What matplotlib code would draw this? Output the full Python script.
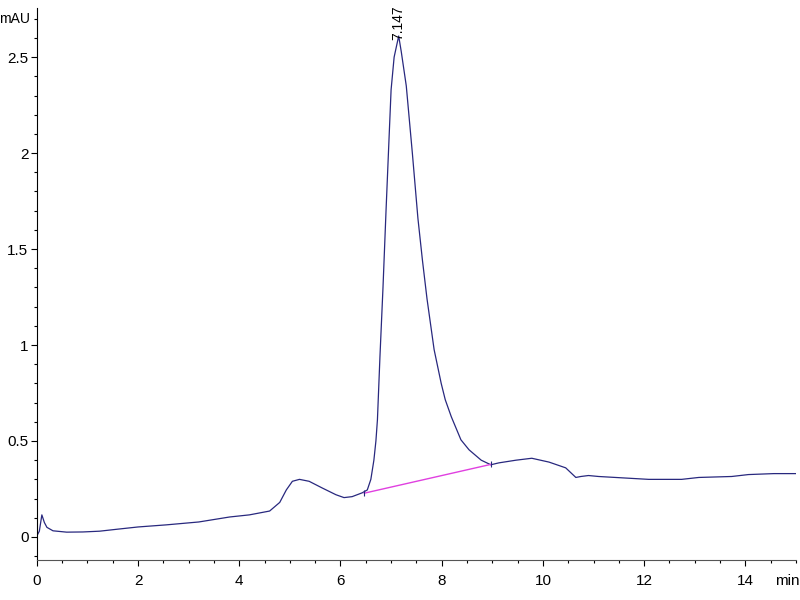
import matplotlib
matplotlib.use('Agg')
import matplotlib.pyplot as plt
from matplotlib.ticker import MultipleLocator

plt.rcParams['font.family'] = ['Liberation Sans Narrow', 'Liberation Sans', 'DejaVu Sans']

# Trace (min, mAU)
tempo = [0.0, 0.05, 0.10, 0.15, 0.20, 0.32, 0.59, 0.91, 1.24, 1.58, 2.0, 2.56,
         3.2, 3.81, 4.2, 4.6, 4.8, 4.93, 5.05, 5.19, 5.38, 5.64, 5.91, 6.07,
         6.23, 6.43, 6.53, 6.60, 6.66, 6.70, 6.73, 6.78, 6.84, 6.90, 6.96,
         7.00, 7.06, 7.15, 7.20, 7.30, 7.42, 7.53, 7.62, 7.71, 7.85, 7.99, 8.07, 8.19,
         8.38, 8.54, 8.78, 8.97, 9.13, 9.47, 9.78, 10.12, 10.45, 10.65, 10.75,
         10.9, 11.1, 12.09, 12.74, 13.08, 13.73, 14.06, 14.56, 15.0]
sinal = [0.005, 0.03, 0.115, 0.075, 0.05, 0.032, 0.025, 0.026, 0.03, 0.04, 0.052, 0.063,
         0.078, 0.104, 0.115, 0.135, 0.18, 0.245, 0.29, 0.30, 0.29, 0.255, 0.22, 0.205,
         0.21, 0.23, 0.245, 0.30, 0.40, 0.50, 0.61, 0.94, 1.30, 1.70, 2.08,
         2.33, 2.50, 2.61, 2.53, 2.35, 2.0, 1.66, 1.44, 1.24, 0.976, 0.80, 0.715, 0.626,
         0.506, 0.454, 0.40, 0.376, 0.386, 0.40, 0.41, 0.39, 0.36, 0.31, 0.315,
         0.32, 0.315, 0.30, 0.30, 0.31, 0.315, 0.325, 0.33, 0.33]

# Integration baseline and peak label
base_x = [6.47, 8.97]
base_y = [0.228, 0.378]
pico_rt = 7.147
pico_h = 2.61

cor_linha = '#28287e'
cor_base = '#e040e0'

fig = plt.figure(figsize=(8, 6), dpi=100)
ax = fig.add_axes([0.046, 0.0667, 0.949, 0.92])

ax.plot(tempo, sinal, color=cor_linha, linewidth=0.9)
ax.plot(base_x, base_y, color=cor_base, linewidth=1.0)
ax.plot(base_x, base_y, linestyle='none', marker='|', markersize=5,
        color=cor_linha, markeredgewidth=0.8)

ax.annotate(f'{pico_rt:.3f}', xy=(pico_rt, pico_h), xytext=(0, -3),
            textcoords='offset points', rotation=90, ha='center', va='bottom',
            fontsize=10)

ax.set_xlim(0, 15)
ax.set_ylim(-0.12, 2.756)

ax.xaxis.set_major_locator(MultipleLocator(2))
ax.xaxis.set_minor_locator(MultipleLocator(0.5))
ax.set_yticks([0, 0.5, 1, 1.5, 2, 2.5])
ax.set_yticklabels(['0', '0.5', '1', '1.5', '2', '2.5'])
ax.yaxis.set_minor_locator(MultipleLocator(0.1))

ax.tick_params(which='major', length=4, width=0.8, labelsize=11, direction='out')
ax.tick_params(which='minor', length=2.5, width=0.8, direction='out')
ax.tick_params(axis='x', pad=6)
ax.tick_params(axis='y', pad=2)

for lado in ['top', 'right']:
    ax.spines[lado].set_visible(False)
ax.spines['left'].set_color('black')
ax.spines['bottom'].set_color('#555555')

# unit labels
ax.annotate('mAU', xy=(0, 2.7), xycoords=('axes fraction', 'data'),
            xytext=(-5, 0), textcoords='offset points', ha='right', va='center',
            fontsize=10)
ax.annotate('min', xy=(14.82, 0), xycoords=('data', 'axes fraction'),
            xytext=(0, -10), textcoords='offset points', ha='center', va='top',
            fontsize=11)

plt.savefig('out.png', dpi=100)
plt.close(fig)
